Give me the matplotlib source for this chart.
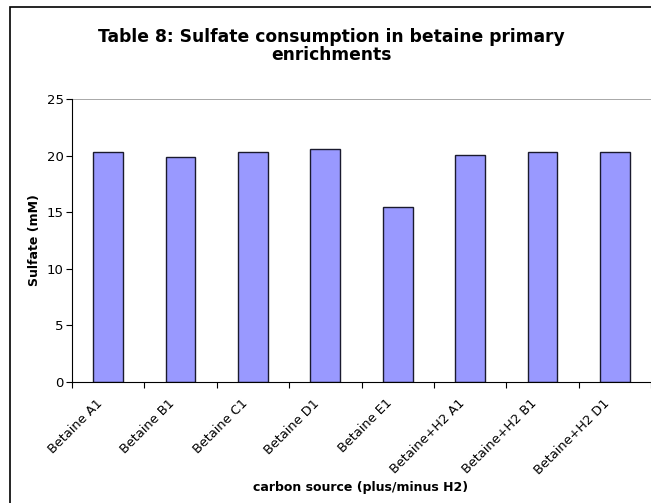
import matplotlib.pyplot as plt
import numpy as np
from matplotlib.patches import Rectangle

samples = ['Betaine A1', 'Betaine B1', 'Betaine C1', 'Betaine D1', 'Betaine E1',
           'Betaine+H2 A1', 'Betaine+H2 B1', 'Betaine+H2 D1']
sulfate = [20.35, 19.9, 20.3, 20.55, 15.5, 20.05, 20.3, 20.3]
yticks = [0, 5, 10, 15, 20, 25]

plt.rcParams['font.family'] = ['DejaVu Sans']

fig = plt.figure(figsize=(6.51, 5.03), dpi=100)
# chart frame, runs off the right and bottom edge
fig.patches.append(Rectangle((10 / 651, -0.05), 1.0, 1 - 7 / 503 + 0.05,
                             transform=fig.transFigure, fill=False,
                             edgecolor='black', linewidth=1.2, zorder=0))

ax = fig.add_axes([72 / 651, 1 - 382 / 503, 1 - 72 / 651, 283 / 503])
x = np.arange(len(samples))
ax.bar(x, sulfate, width=0.41, color='#9999FF', edgecolor='#1a1a2e', linewidth=1.0, zorder=2)

ax.set_xlim(-0.5, len(samples) - 0.5)
ax.set_ylim(0, 25)
ax.set_yticks(yticks)
ax.set_yticklabels([str(t) for t in yticks], fontsize=9.5)
ax.tick_params(axis='y', length=4, width=0.8, pad=2)

# ticks sit on the category boundaries
ax.set_xticks(np.arange(len(samples) + 1) - 0.5)
ax.set_xticklabels([])
ax.tick_params(axis='x', length=4, width=0.8)
for i, s in enumerate(samples):
    ax.text(i - 0.17, -1.3, s, rotation=45, ha='right', va='top',
            rotation_mode='anchor', fontsize=9.3)

ax.axhline(25, color='#999999', linewidth=1.2, zorder=1)
ax.spines['top'].set_visible(False)
ax.spines['right'].set_visible(False)
ax.spines['left'].set_linewidth(0.8)
ax.spines['bottom'].set_linewidth(0.8)

ax.set_ylabel('Sulfate (mM)', fontsize=9, fontweight='bold', labelpad=4)
fig.text(361 / 651, 1 - 487 / 503, 'carbon source (plus/minus H2)', ha='center',
         va='center', fontsize=9, fontweight='bold')
fig.text(331 / 651, 1 - 46 / 503, 'Table 8: Sulfate consumption in betaine primary\nenrichments',
         ha='center', va='center', fontsize=12.3, fontweight='bold', linespacing=0.95)

fig.savefig('out.png', dpi=100)
